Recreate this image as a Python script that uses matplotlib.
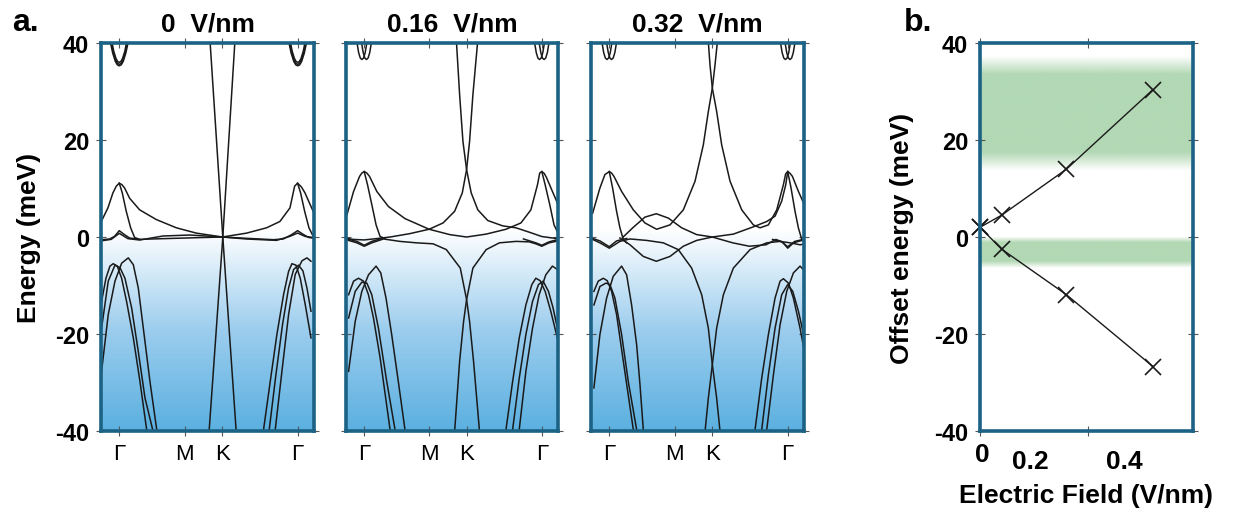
import numpy as np
import matplotlib.pyplot as plt
from matplotlib.colors import LinearSegmentedColormap

plt.rcParams['font.family'] = ['Liberation Sans', 'DejaVu Sans']
plt.rcParams['axes.unicode_minus'] = False

# k-path: Gamma - M - K - Gamma
k_ticks = [0, 1, 1.577, 2.732]
k_labels = ['Γ', 'M', 'K', 'Γ']
field_titles = ['0  V/nm', '0.16  V/nm', '0.32  V/nm']

# conduction pockets at Gamma (k offset from Gamma, energy in meV)
cb_0V = [
    ([-0.14, -0.10, -0.06, -0.03, 0, 0.03, 0.06, 0.10, 0.14], [40.4, 37.9, 36.2, 35.5, 35.3, 35.5, 36.2, 37.9, 40.4]),
    ([-0.13, -0.093, -0.056, -0.028, 0, 0.028, 0.056, 0.093, 0.13], [40.6, 38.1, 36.5, 35.8, 35.6, 35.8, 36.5, 38.1, 40.6]),
    ([-0.12, -0.085, -0.05, -0.025, 0, 0.025, 0.05, 0.085, 0.12], [40.7, 38.3, 36.8, 36.2, 36.0, 36.2, 36.8, 38.3, 40.7]),
]
cb_016V = [
    ([-0.115, -0.085, -0.06, -0.035, -0.01, 0.015, 0.045], [40.4, 38.0, 36.9, 36.6, 36.9, 38.0, 40.4]),
    ([-0.045, -0.015, 0.01, 0.035, 0.06, 0.085, 0.115], [40.4, 38.0, 36.9, 36.6, 36.9, 38.0, 40.4]),
]
cb_032V = [
    ([-0.115, -0.085, -0.06, -0.035, -0.01, 0.015, 0.045], [40.4, 38.0, 36.9, 36.6, 36.9, 38.0, 40.4]),
    ([-0.045, -0.015, 0.01, 0.035, 0.06, 0.085, 0.115], [40.4, 38.0, 36.9, 36.6, 36.9, 38.0, 40.4]),
]

# bands, 0 V/nm
bands_0V = [
    ([-0.261, -0.174, -0.097, -0.045, 0, 0.04, 0.082, 0.158, 0.312, 0.567, 0.874, 1.181, 1.580, 1.948, 2.255, 2.459, 2.613, 2.685, 2.730, 2.79, 2.843, 2.945, 3.02],
     [3.6, 6.0, 9.1, 10.5, 11.1, 10.8, 10.1, 8.0, 5.6, 3.6, 1.9, 0.8, 0, 0.8, 1.9, 3.2, 6.0, 10.5, 11.1, 10.3, 9.1, 6.0, 3.9]),
    ([0, 0.046, 0.107, 0.174, 0.235, 0.312], [11.1, 9.1, 5.3, 1.9, -0.1, -0.5]),
    ([2.730, 2.776, 2.838, 2.904, 2.971, 3.02], [11.1, 9.1, 5.3, 1.9, 0.1, -0.2]),
    ([-0.261, -0.148, -0.072, 0, 0.066, 0.158, 0.312, 0.670, 1.181, 1.580, 1.948, 2.357, 2.510, 2.638, 2.730, 2.807, 2.894, 3.02],
     [-0.55, -0.41, 0.14, 1.31, 0.62, -0.21, -0.48, -0.34, -0.14, 0, -0.27, -0.55, -0.41, 0.48, 1.31, 0.62, -0.07, -0.34]),
    ([-0.261, -0.123, 0, 0.133, 0.312, 0.670, 1.079, 1.580, 1.948, 2.408, 2.613, 2.730, 2.843, 3.02],
     [-0.76, -0.48, 0.76, -0.34, -0.62, 0.21, 0.41, 0, -0.41, -0.69, 0.14, 0.82, 0.14, -0.21]),
    ([1.389, 1.585, 1.792], [40.5, 0, -40.5]),
    ([1.771, 1.585, 1.373], [40.5, 0, -40.5]),
    ([-0.271, -0.204, -0.143, -0.092, -0.031, 0.036, 0.112, 0.215, 0.317, 0.419],
     [-13.3, -8.5, -6.0, -5.5, -6.0, -8.5, -13.3, -20.8, -29.8, -39.7]),
    ([-0.271, -0.169, -0.066, 0.036, 0.138, 0.215, 0.291, 0.368, 0.470, 0.573],
     [-27.7, -16.0, -9.1, -5.4, -4.3, -5.7, -10.5, -18.8, -29.8, -39.7]),
    ([-0.271, -0.169, -0.066, 0.010, 0.087, 0.189, 0.291, 0.394, 0.511],
     [-18.8, -9.1, -5.8, -6.3, -8.5, -14.6, -23.6, -33.2, -39.7]),
    ([2.209, 2.311, 2.413, 2.515, 2.592, 2.643, 2.705, 2.771, 2.848, 2.935],
     [-39.7, -29.8, -20.1, -11.9, -7.1, -5.5, -5.8, -8.5, -14.0, -20.8]),
    ([2.296, 2.398, 2.500, 2.592, 2.669, 2.745, 2.812, 2.873, 2.935],
     [-39.7, -28.4, -18.0, -10.5, -6.7, -5.8, -7.0, -10.5, -15.3]),
    ([2.388, 2.490, 2.592, 2.694, 2.797, 2.873, 2.935], [-39.7, -27.7, -16.0, -7.7, -4.9, -4.3, -5.0]),
]

# bands, 0.16 V/nm
bands_016V = [
    ([-0.265, -0.163, -0.071, -0.035, 0, 0.04, 0.082, 0.194, 0.372, 0.627, 0.999, 1.315, 1.575, 1.876, 2.181, 2.411, 2.564, 2.666, 2.70, 2.732, 2.77, 2.803, 2.895, 2.982],
     [4.6, 9.4, 12.5, 13.2, 13.5, 13.2, 12.5, 9.4, 6.3, 3.8, 1.6, 0.5, 0, 0.6, 1.6, 2.9, 5.6, 10.8, 13.2, 13.5, 13.1, 12.3, 9.4, 6.7]),
    ([0, 0.051, 0.117, 0.183, 0.245, 0.321], [13.5, 10.8, 6.7, 2.5, 0.1, -0.3]),
    ([2.732, 2.783, 2.854, 2.920, 2.982], [13.5, 10.8, 6.7, 2.5, 0.8]),
    ([1.417, 1.468, 1.519, 1.575, 1.646, 1.748, 1.901, 2.130, 2.334, 2.538, 2.732, 2.895, 2.982],
     [40.7, 29.3, 19.7, 13.9, 9.1, 5.6, 3.4, 2.3, 1.9, 1.0, 0.1, -0.2, -0.3]),
    ([1.748, 1.672, 1.621, 1.575, 1.509, 1.391, 1.213, 0.999, 0.703, 0.398, 0.143, 0, -0.163, -0.265],
     [40.7, 29.3, 19.7, 13.9, 9.1, 5.3, 2.9, 1.6, 0.7, 0, -0.4, -0.6, -0.5, -0.3]),
    ([1.391, 1.468, 1.529, 1.575, 1.672, 1.876, 2.080, 2.334, 2.538, 2.640, 2.732, 2.844, 2.982],
     [-40.1, -25.6, -17.4, -12.9, -6.4, -2.6, -1.2, -0.9, -1.0, -1.4, -1.9, -1.2, -0.8]),
    ([1.774, 1.682, 1.621, 1.575, 1.478, 1.264, 1.060, 0.805, 0.550, 0.296, 0.117, 0, -0.112, -0.265],
     [-40.1, -25.6, -17.4, -12.9, -6.4, -2.6, -1.4, -1.2, -0.9, -0.4, -1.2, -1.9, -1.2, -0.6]),
    ([-0.265, -0.112, 0, 0.117, 0.296], [-0.4, -0.9, -1.7, -0.9, -0.2]),
    ([2.45, 2.64, 2.732, 2.844, 2.982], [-0.4, -1.2, -1.7, -1.0, -0.5]),
    ([-0.240, -0.163, -0.087, -0.010, 0.066, 0.143, 0.245, 0.398],
     [-11.9, -9.1, -8.5, -9.1, -11.9, -16.7, -24.9, -39.7]),
    ([-0.240, -0.138, -0.036, 0.066, 0.183, 0.255, 0.336, 0.423, 0.525, 0.627],
     [-27.7, -17.4, -11.2, -7.8, -6.0, -7.4, -12.6, -20.1, -29.8, -39.7]),
    ([-0.240, -0.138, -0.036, 0.041, 0.117, 0.219, 0.347, 0.474],
     [-16.7, -11.2, -9.3, -9.5, -11.9, -18.8, -29.8, -39.7]),
    ([2.181, 2.283, 2.385, 2.487, 2.579, 2.640, 2.706, 2.783, 2.870, 2.971],
     [-39.7, -29.8, -20.8, -14.0, -9.8, -8.5, -9.0, -11.2, -15.3, -20.8]),
    ([2.283, 2.385, 2.487, 2.589, 2.681, 2.752, 2.834, 2.905, 2.971],
     [-39.7, -29.1, -20.1, -13.3, -9.8, -9.1, -11.2, -14.6, -18.8]),
    ([2.385, 2.487, 2.589, 2.691, 2.793, 2.895, 2.971], [-39.7, -27.7, -18.8, -11.9, -7.8, -6.0, -6.7]),
]

# bands, 0.32 V/nm
bands_032V = [
    ([-0.255, -0.143, -0.066, -0.03, 0, 0.035, 0.072, 0.189, 0.368, 0.546, 0.725, 0.930, 1.134, 1.313, 1.440, 1.517, 1.578, 1.619, 1.655],
     [4.9, 10.1, 12.9, 13.2, 13.5, 13.2, 12.5, 9.4, 5.6, 2.9, 1.6, 2.5, 5.6, 11.5, 19.0, 25.9, 30.7, 35.5, 40.2]),
    ([1.517, 1.542, 1.578, 1.644, 1.721, 1.849, 2.028, 2.206, 2.308, 2.436, 2.564, 2.666, 2.70, 2.732, 2.77, 2.804, 2.896, 3.008],
     [40.2, 35.5, 30.7, 25.9, 19.0, 11.5, 5.6, 2.5, 1.9, 2.5, 5.6, 10.8, 13.0, 13.5, 13.1, 12.5, 9.4, 6.0]),
    ([0.204, 0.368, 0.546, 0.720, 0.904, 1.108, 1.338, 1.578, 1.900, 2.206, 2.411, 2.538, 2.640, 2.702, 2.732],
     [-0.1, 2.0, 4.1, 4.8, 3.9, 1.9, 0.5, 0, 0.6, 2.1, 3.2, 4.3, 7.4, 10.8, 13.5]),
    ([0, 0.051, 0.112, 0.163, 0.215, 0.266], [13.5, 10.1, 5.3, 1.9, -0.5, -1.2]),
    ([2.732, 2.783, 2.844, 2.895, 2.947, 3.0], [13.5, 10.1, 5.3, 1.9, -0.5, -1.2]),
    ([0.163, 0.317, 0.521, 0.720, 0.930, 1.134, 1.338, 1.578, 1.89, 2.145, 2.40, 2.55, 2.65, 2.732, 2.82, 3.0],
     [-0.2, -1.6, -4.0, -5.0, -4.0, -1.9, -0.7, 0, -1.2, -1.9, -1.6, -0.5, -1.0, -2.3, -1.2, -0.5]),
    ([1.466, 1.517, 1.578, 1.644, 1.747, 1.900, 2.155, 2.411, 2.615, 2.768, 2.921, 3.008],
     [-40.1, -33.2, -26.3, -18.8, -11.9, -6.4, -2.6, -1.2, -0.9, -1.2, -1.6, -1.4]),
    ([1.696, 1.644, 1.578, 1.517, 1.415, 1.261, 1.057, 0.827, 0.572, 0.317, 0.163, 0, -0.143, -0.255],
     [-40.1, -33.2, -26.3, -18.8, -11.9, -6.4, -2.6, -1.2, -0.7, -0.4, -0.9, -2.3, -1.2, -0.5]),
    ([-0.255, -0.143, 0, 0.112, 0.266], [-0.3, -0.8, -2.0, -0.8, -0.3]),
    ([2.50, 2.64, 2.732, 2.84, 3.0], [-0.5, -1.0, -2.0, -0.9, -0.4]),
    ([-0.235, -0.169, -0.092, -0.031, 0.036, 0.112, 0.215, 0.368],
     [-11.2, -9.1, -8.5, -9.0, -11.2, -16.0, -25.6, -39.7]),
    ([-0.235, -0.143, -0.041, 0.061, 0.189, 0.266, 0.342, 0.419, 0.470, 0.521],
     [-31.1, -20.1, -12.6, -8.1, -6.0, -7.8, -14.0, -22.2, -30.4, -39.7]),
    ([-0.235, -0.143, -0.051, 0.010, 0.087, 0.189, 0.291, 0.419],
     [-14.0, -10.2, -9.5, -9.8, -12.6, -20.1, -29.8, -39.7]),
    ([2.232, 2.334, 2.436, 2.538, 2.615, 2.666, 2.743, 2.819, 2.921, 2.998],
     [-39.7, -29.1, -20.1, -12.6, -9.1, -8.6, -9.5, -12.6, -18.8, -24.3]),
    ([2.334, 2.436, 2.538, 2.640, 2.732, 2.809, 2.896, 2.998],
     [-39.7, -28.4, -18.8, -11.9, -9.8, -11.2, -15.3, -21.5]),
    ([2.411, 2.513, 2.615, 2.717, 2.819, 2.921, 2.998], [-39.7, -28.4, -18.1, -11.2, -7.4, -6.0, -7.1]),
]

# panel b: band offsets vs field
field = [0, 0.04, 0.16, 0.32]
offset_upper = [2.0, 4.5, 14.0, 30.4]
offset_lower = [2.0, -2.5, -11.9, -26.7]
green_upper = (13.6, 37.2)
green_lower = (-6.5, 0.0)

frame_col = '#1b6285'
line_col = '#1a1a1a'
klim = (-0.28, 2.98)

fig = plt.figure(figsize=(12.33, 5.1), dpi=100)
ax_pos = [[0.0819, 0.1529, 0.1727, 0.7608],
          [0.2806, 0.1529, 0.1719, 0.7608],
          [0.4793, 0.1529, 0.1727, 0.7608]]

blue_cmap = LinearSegmentedColormap.from_list('bl', ['#5bb0e0', '#9ccdee', '#ffffff'])
grad = np.linspace(0, 1, 256).reshape(-1, 1)

panels = [(bands_0V, cb_0V), (bands_016V, cb_016V), (bands_032V, cb_032V)]
for i, (bands, pockets) in enumerate(panels):
    ax = fig.add_axes(ax_pos[i])
    ax.imshow(grad, extent=[klim[0], klim[1], -40, 1.5], origin='lower', aspect='auto',
              cmap=blue_cmap, zorder=0)
    for kx, e in bands:
        ax.plot(kx, e, color=line_col, lw=1.1)
    for g in (k_ticks[0], k_ticks[3]):
        for dk, e in pockets:
            ax.plot(np.array(dk) + g, e, color=line_col, lw=1.1)
    ax.set_xlim(*klim)
    ax.set_ylim(-40, 40)
    ax.set_xticks(k_ticks)
    ax.set_xticklabels(k_labels, fontsize=16)
    ax.set_yticks([-40, -20, 0, 20, 40])
    if i == 0:
        ax.set_yticklabels(['-40', '-20', '0', '20', '40'], fontsize=17, fontweight='bold')
        ax.set_ylabel('Energy (meV)', fontsize=19, fontweight='bold', labelpad=10)
    else:
        ax.set_yticklabels([])
    ax.tick_params(direction='inout', length=7, width=0.8, color='#555555',
                   top=True, right=True, pad=5)
    ax.set_title(field_titles[i], fontsize=19, fontweight='bold', pad=9)
    for s in ax.spines.values():
        s.set_color(frame_col)
        s.set_linewidth(2.6)

# panel b
axb = fig.add_axes([0.7948, 0.1529, 0.1727, 0.7608])
ys = np.linspace(-40, 40, 801)
rgba = np.zeros((len(ys), 1, 4))
rgba[..., 0] = 178 / 255
rgba[..., 1] = 216 / 255
rgba[..., 2] = 180 / 255
fade = 3.8
alpha = np.interp(ys, [green_upper[0], green_upper[0] + fade, green_upper[1] - fade, green_upper[1]], [0, 1, 1, 0], left=0, right=0)
alpha += np.interp(ys, [green_lower[0], green_lower[0] + 1.5, green_lower[1] - 1.2, green_lower[1]], [0, 1, 1, 0], left=0, right=0)
rgba[..., 3] = alpha[:, None]
axb.imshow(rgba, extent=[0, 0.394, -40, 40], origin='lower', aspect='auto', zorder=0)
axb.plot(field, offset_upper, color=line_col, lw=1.0, marker='x', ms=11, mew=1.2, clip_on=False)
axb.plot(field, offset_lower, color=line_col, lw=1.0, marker='x', ms=11, mew=1.2, clip_on=False)
axb.set_xlim(0, 0.394)
axb.set_ylim(-40, 40)
axb.set_yticks([-40, -20, 0, 20, 40])
axb.set_yticklabels(['-40', '-20', '0', '20', '40'], fontsize=17, fontweight='bold')
axb.set_xticks([0, 0.2])
axb.set_xticklabels([])
axb.tick_params(direction='inout', length=7, width=0.8, color='#555555', top=True, right=True, pad=5)
for lab, xv, yv in [('0', 0.004, -0.028), ('0.2', 0.093, -0.046), ('0.4', 0.267, -0.046)]:
    axb.text(xv, yv, lab, transform=axb.get_xaxis_transform(), ha='center', va='top',
             fontsize=19, fontweight='bold')
axb.set_xlabel('Electric Field (V/nm)', fontsize=19, fontweight='bold', labelpad=29)
axb.set_ylabel('Offset energy (meV)', fontsize=19, fontweight='bold', labelpad=14)
for s in axb.spines.values():
    s.set_color(frame_col)
    s.set_linewidth(2.6)

fig.text(0.010, 0.955, 'a.', fontsize=23, fontweight='bold', va='center')
fig.text(0.733, 0.955, 'b.', fontsize=23, fontweight='bold', va='center')

fig.savefig('out.png', dpi=100)
